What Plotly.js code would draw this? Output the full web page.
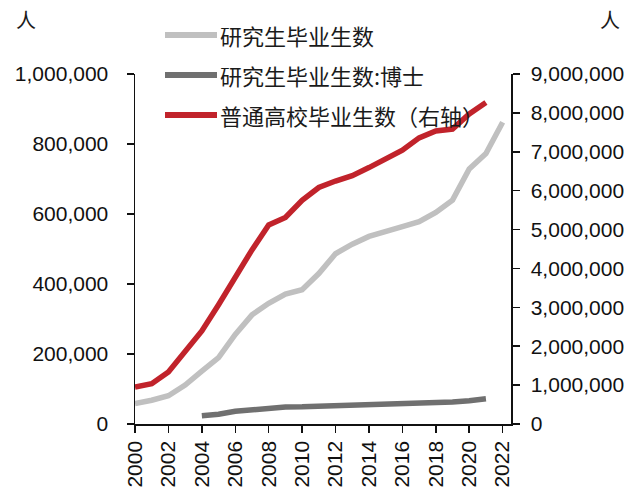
<!DOCTYPE html>
<html>
<head>
<meta charset="utf-8">
<script src="https://cdn.plot.ly/plotly-3.0.1.min.js"></script>
<style>
  html, body { margin: 0; padding: 0; background: #ffffff; }
  #chart { width: 640px; height: 493px; }
</style>
</head>
<body>
<div id="chart"></div>
<script>
// 年份
const years = [2000, 2001, 2002, 2003, 2004, 2005, 2006, 2007, 2008, 2009, 2010, 2011,
               2012, 2013, 2014, 2015, 2016, 2017, 2018, 2019, 2020, 2021, 2022];

// 研究生毕业生数 (左轴)
const gradTotal = [58767, 67809, 80841, 111091, 150777, 189728, 255902, 311839, 344825, 371273, 383600, 429994,
                   486455, 513626, 535863, 551522, 563938, 578045, 604368, 639666, 728627, 772761, 862000];

// 研究生毕业生数:博士 (左轴)
const gradPhd = [null, null, null, null, 23446, 27677, 36247, 41464, 43759, 48658, 48987, 50289,
                 51713, 53139, 53653, 53778, 55011, 58032, 60724, 62578, 66176, 72019, null];

// 普通高校毕业生数 (右轴)
const collegeGrads = [949767, 1036323, 1337309, 1877492, 2391152, 3067956, 3774708, 4477907, 5119498, 5311023, 5754245, 6081565,
                      6247338, 6387210, 6593671, 6805000, 7041800, 7358300, 7533087, 7585298, 7971991, 8266000, null];

const seriesNames = ['研究生毕业生数', '研究生毕业生数:博士', '普通高校毕业生数（右轴）'];
const seriesColors = ['#c0c0c0', '#707070', '#c1232b'];

const W = 640, H = 493;
const margin = { l: 135, r: 129, t: 74, b: 69 };
const plotW = W - margin.l - margin.r;
const plotH = H - margin.t - margin.b;
// 像素 -> paper 坐标
const px = x => (x - margin.l) / plotW;
const py = y => (H - margin.b - y) / plotH;

const tickFont = { family: 'Liberation Sans, Arial, sans-serif', size: 21, color: '#111111' };
const cjkFont = { family: 'Noto Sans CJK SC, sans-serif', size: 22, color: '#1a1a1a' };
const unitFont = { family: 'Noto Sans CJK SC, sans-serif', size: 20, color: '#1a1a1a' };

const data = [
    { x: years, y: gradTotal, name: seriesNames[0], type: 'scatter', mode: 'lines',
      line: { color: seriesColors[0], width: 5.5 }, yaxis: 'y' },
    { x: years, y: gradPhd, name: seriesNames[1], type: 'scatter', mode: 'lines',
      line: { color: seriesColors[1], width: 5.5 }, yaxis: 'y' },
    { x: years, y: collegeGrads, name: seriesNames[2], type: 'scatter', mode: 'lines',
      line: { color: seriesColors[2], width: 5.5 }, yaxis: 'y2' }
];

// 图例 (手工绘制)
const legendRows = [35, 75, 115];
const shapes = [];
const annotations = [];
seriesNames.forEach((name, i) => {
    shapes.push({
        type: 'line', xref: 'paper', yref: 'paper',
        x0: px(165), x1: px(217), y0: py(legendRows[i]), y1: py(legendRows[i]),
        line: { color: seriesColors[i], width: 6 }
    });
    annotations.push({
        xref: 'paper', yref: 'paper', x: px(218), y: py(legendRows[i]),
        xanchor: 'left', yanchor: 'middle', showarrow: false,
        text: name, font: cjkFont
    });
});
annotations.push({ xref: 'paper', yref: 'paper', x: px(26), y: py(20), xanchor: 'center', yanchor: 'middle',
                   showarrow: false, text: '人', font: unitFont });
annotations.push({ xref: 'paper', yref: 'paper', x: px(610), y: py(20), xanchor: 'center', yanchor: 'middle',
                   showarrow: false, text: '人', font: unitFont });

const layout = {
    width: W,
    height: H,
    margin: margin,
    showlegend: false,
    paper_bgcolor: '#ffffff',
    plot_bgcolor: '#ffffff',
    xaxis: {
        range: [2000, 2022.5],
        tick0: 2000, dtick: 2,
        tickangle: -90,
        ticks: 'outside', ticklen: 7, tickwidth: 1.5, tickcolor: '#111111',
        showline: true, linecolor: '#111111', linewidth: 1.5,
        showgrid: false, zeroline: false,
        tickfont: tickFont
    },
    yaxis: {
        range: [0, 1000000],
        dtick: 200000,
        tickformat: ',d',
        ticks: 'outside', ticklen: 7, tickwidth: 1.5, tickcolor: '#111111',
        showline: true, linecolor: '#111111', linewidth: 1.5,
        showgrid: false, zeroline: false,
        ticklabelstandoff: 14,
        tickfont: tickFont
    },
    yaxis2: {
        range: [0, 9000000],
        dtick: 1000000,
        tickformat: ',d',
        overlaying: 'y', side: 'right',
        ticks: 'outside', ticklen: 7, tickwidth: 1.5, tickcolor: '#111111',
        showline: true, linecolor: '#111111', linewidth: 1.5,
        showgrid: false, zeroline: false,
        ticklabelstandoff: 7,
        tickfont: tickFont
    },
    shapes: shapes,
    annotations: annotations
};

Plotly.newPlot('chart', data, layout, { displayModeBar: false, staticPlot: true });
</script>
</body>
</html>
